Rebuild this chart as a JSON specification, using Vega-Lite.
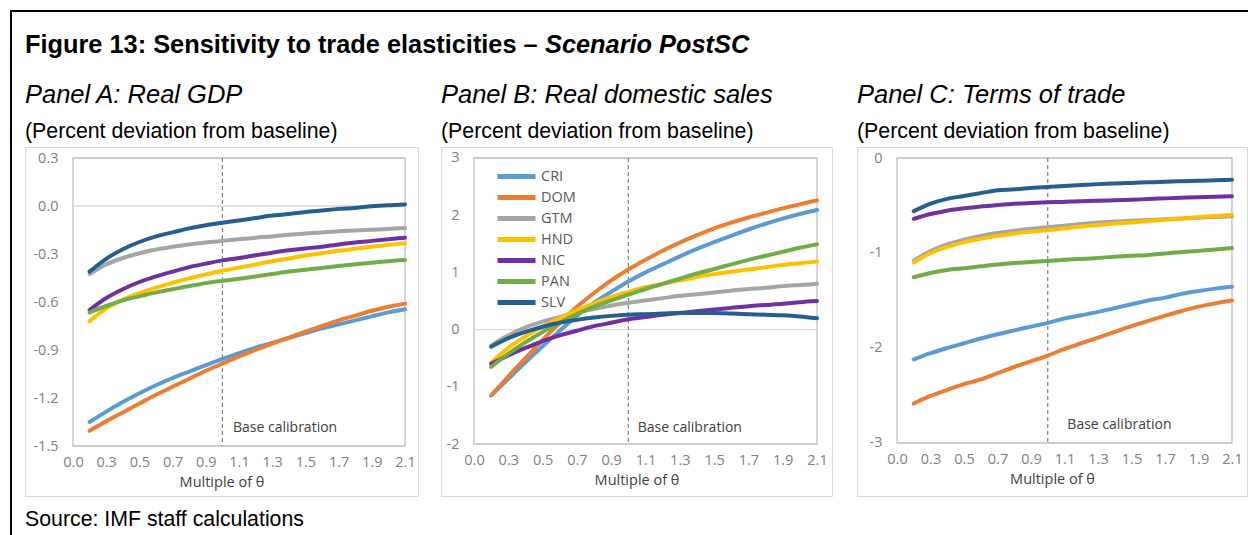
{
  "$schema": "https://vega.github.io/schema/vega-lite/v6.json",
  "background": "white",
  "padding": {"left": 10, "top": 10, "right": 0, "bottom": 0},
  "config": {
    "view": {"stroke": null},
    "range": {"category": ["#5B9BD5", "#ED7D31", "#A5A5A5", "#FFC000", "#7030A0", "#70AD47", "#255E91"]},
    "axis": {
      "labelFont": "Open Sans", "labelFontSize": 14.5, "labelColor": "#7f7f7f",
      "titleFont": "Open Sans", "titleFontSize": 14.5, "titleColor": "#404040", "titleFontWeight": "normal",
      "ticks": false, "tickSize": 0, "domain": false, "grid": false, "labelFlush": false, "labelOverlap": false
    }
  },
  "datasets": {
    "A": [
      {"theta": 0.2, "CRI": -1.35, "DOM": -1.405, "GTM": -0.425, "HND": -0.72, "NIC": -0.65, "PAN": -0.665, "SLV": -0.41},
      {"theta": 0.3, "CRI": -1.285, "DOM": -1.345, "GTM": -0.365, "HND": -0.64, "NIC": -0.575, "PAN": -0.625, "SLV": -0.33},
      {"theta": 0.4, "CRI": -1.225, "DOM": -1.29, "GTM": -0.325, "HND": -0.585, "NIC": -0.52, "PAN": -0.59, "SLV": -0.27},
      {"theta": 0.5, "CRI": -1.17, "DOM": -1.235, "GTM": -0.295, "HND": -0.545, "NIC": -0.475, "PAN": -0.565, "SLV": -0.225},
      {"theta": 0.6, "CRI": -1.12, "DOM": -1.18, "GTM": -0.272, "HND": -0.51, "NIC": -0.44, "PAN": -0.54, "SLV": -0.19},
      {"theta": 0.7, "CRI": -1.075, "DOM": -1.13, "GTM": -0.255, "HND": -0.48, "NIC": -0.41, "PAN": -0.52, "SLV": -0.165},
      {"theta": 0.8, "CRI": -1.035, "DOM": -1.08, "GTM": -0.24, "HND": -0.452, "NIC": -0.382, "PAN": -0.5, "SLV": -0.14},
      {"theta": 0.9, "CRI": -0.995, "DOM": -1.03, "GTM": -0.228, "HND": -0.428, "NIC": -0.36, "PAN": -0.482, "SLV": -0.12},
      {"theta": 1.0, "CRI": -0.955, "DOM": -0.985, "GTM": -0.218, "HND": -0.405, "NIC": -0.34, "PAN": -0.468, "SLV": -0.105},
      {"theta": 1.1, "CRI": -0.92, "DOM": -0.94, "GTM": -0.208, "HND": -0.385, "NIC": -0.325, "PAN": -0.455, "SLV": -0.09},
      {"theta": 1.2, "CRI": -0.885, "DOM": -0.9, "GTM": -0.198, "HND": -0.365, "NIC": -0.308, "PAN": -0.44, "SLV": -0.075},
      {"theta": 1.3, "CRI": -0.855, "DOM": -0.86, "GTM": -0.19, "HND": -0.345, "NIC": -0.292, "PAN": -0.425, "SLV": -0.06},
      {"theta": 1.4, "CRI": -0.825, "DOM": -0.822, "GTM": -0.18, "HND": -0.328, "NIC": -0.277, "PAN": -0.41, "SLV": -0.05},
      {"theta": 1.5, "CRI": -0.795, "DOM": -0.785, "GTM": -0.172, "HND": -0.31, "NIC": -0.265, "PAN": -0.398, "SLV": -0.038},
      {"theta": 1.6, "CRI": -0.765, "DOM": -0.75, "GTM": -0.165, "HND": -0.295, "NIC": -0.255, "PAN": -0.387, "SLV": -0.028},
      {"theta": 1.7, "CRI": -0.74, "DOM": -0.715, "GTM": -0.158, "HND": -0.28, "NIC": -0.24, "PAN": -0.375, "SLV": -0.018},
      {"theta": 1.8, "CRI": -0.715, "DOM": -0.685, "GTM": -0.153, "HND": -0.268, "NIC": -0.228, "PAN": -0.364, "SLV": -0.012},
      {"theta": 1.9, "CRI": -0.69, "DOM": -0.655, "GTM": -0.148, "HND": -0.255, "NIC": -0.218, "PAN": -0.354, "SLV": -0.002},
      {"theta": 2.0, "CRI": -0.665, "DOM": -0.63, "GTM": -0.143, "HND": -0.243, "NIC": -0.208, "PAN": -0.345, "SLV": 0.005},
      {"theta": 2.1, "CRI": -0.645, "DOM": -0.61, "GTM": -0.138, "HND": -0.232, "NIC": -0.198, "PAN": -0.338, "SLV": 0.01}
    ],
    "B": [
      {"theta": 0.2, "CRI": -1.15, "DOM": -1.15, "GTM": -0.28, "HND": -0.58, "NIC": -0.6, "PAN": -0.65, "SLV": -0.3},
      {"theta": 0.3, "CRI": -0.86, "DOM": -0.82, "GTM": -0.1, "HND": -0.32, "NIC": -0.45, "PAN": -0.42, "SLV": -0.15},
      {"theta": 0.4, "CRI": -0.57, "DOM": -0.5, "GTM": 0.04, "HND": -0.12, "NIC": -0.32, "PAN": -0.22, "SLV": -0.04},
      {"theta": 0.5, "CRI": -0.29, "DOM": -0.18, "GTM": 0.14, "HND": 0.05, "NIC": -0.2, "PAN": -0.04, "SLV": 0.05},
      {"theta": 0.6, "CRI": -0.02, "DOM": 0.12, "GTM": 0.22, "HND": 0.2, "NIC": -0.1, "PAN": 0.12, "SLV": 0.12},
      {"theta": 0.7, "CRI": 0.24, "DOM": 0.4, "GTM": 0.3, "HND": 0.34, "NIC": -0.02, "PAN": 0.27, "SLV": 0.17},
      {"theta": 0.8, "CRI": 0.47, "DOM": 0.64, "GTM": 0.36, "HND": 0.46, "NIC": 0.06, "PAN": 0.4, "SLV": 0.21},
      {"theta": 0.9, "CRI": 0.66, "DOM": 0.86, "GTM": 0.42, "HND": 0.57, "NIC": 0.12, "PAN": 0.51, "SLV": 0.24},
      {"theta": 1.0, "CRI": 0.84, "DOM": 1.05, "GTM": 0.47, "HND": 0.66, "NIC": 0.18, "PAN": 0.61, "SLV": 0.26},
      {"theta": 1.1, "CRI": 1.0, "DOM": 1.22, "GTM": 0.51, "HND": 0.74, "NIC": 0.22, "PAN": 0.71, "SLV": 0.27},
      {"theta": 1.2, "CRI": 1.14, "DOM": 1.38, "GTM": 0.55, "HND": 0.8, "NIC": 0.26, "PAN": 0.8, "SLV": 0.28},
      {"theta": 1.3, "CRI": 1.28, "DOM": 1.52, "GTM": 0.59, "HND": 0.86, "NIC": 0.29, "PAN": 0.89, "SLV": 0.29},
      {"theta": 1.4, "CRI": 1.41, "DOM": 1.65, "GTM": 0.62, "HND": 0.92, "NIC": 0.32, "PAN": 0.98, "SLV": 0.29},
      {"theta": 1.5, "CRI": 1.53, "DOM": 1.77, "GTM": 0.65, "HND": 0.97, "NIC": 0.35, "PAN": 1.06, "SLV": 0.29},
      {"theta": 1.6, "CRI": 1.64, "DOM": 1.87, "GTM": 0.68, "HND": 1.01, "NIC": 0.38, "PAN": 1.14, "SLV": 0.28},
      {"theta": 1.7, "CRI": 1.75, "DOM": 1.96, "GTM": 0.71, "HND": 1.05, "NIC": 0.41, "PAN": 1.22, "SLV": 0.27},
      {"theta": 1.8, "CRI": 1.85, "DOM": 2.04, "GTM": 0.73, "HND": 1.09, "NIC": 0.43, "PAN": 1.29, "SLV": 0.26},
      {"theta": 1.9, "CRI": 1.94, "DOM": 2.12, "GTM": 0.76, "HND": 1.13, "NIC": 0.45, "PAN": 1.36, "SLV": 0.25},
      {"theta": 2.0, "CRI": 2.02, "DOM": 2.19, "GTM": 0.78, "HND": 1.16, "NIC": 0.48, "PAN": 1.43, "SLV": 0.23},
      {"theta": 2.1, "CRI": 2.09, "DOM": 2.26, "GTM": 0.8, "HND": 1.19, "NIC": 0.5, "PAN": 1.49, "SLV": 0.2}
    ],
    "C": [
      {"theta": 0.2, "CRI": -2.12, "DOM": -2.585, "GTM": -1.08, "HND": -1.1, "NIC": -0.64, "PAN": -1.255, "SLV": -0.56},
      {"theta": 0.3, "CRI": -2.055, "DOM": -2.505, "GTM": -0.98, "HND": -1.0, "NIC": -0.59, "PAN": -1.21, "SLV": -0.48},
      {"theta": 0.4, "CRI": -2.0, "DOM": -2.44, "GTM": -0.91, "HND": -0.935, "NIC": -0.555, "PAN": -1.178, "SLV": -0.43},
      {"theta": 0.5, "CRI": -1.95, "DOM": -2.38, "GTM": -0.86, "HND": -0.885, "NIC": -0.53, "PAN": -1.16, "SLV": -0.4},
      {"theta": 0.6, "CRI": -1.9, "DOM": -2.33, "GTM": -0.82, "HND": -0.85, "NIC": -0.51, "PAN": -1.14, "SLV": -0.37},
      {"theta": 0.7, "CRI": -1.855, "DOM": -2.265, "GTM": -0.79, "HND": -0.82, "NIC": -0.495, "PAN": -1.12, "SLV": -0.34},
      {"theta": 0.8, "CRI": -1.815, "DOM": -2.2, "GTM": -0.765, "HND": -0.795, "NIC": -0.482, "PAN": -1.105, "SLV": -0.33},
      {"theta": 0.9, "CRI": -1.775, "DOM": -2.14, "GTM": -0.745, "HND": -0.775, "NIC": -0.474, "PAN": -1.095, "SLV": -0.315},
      {"theta": 1.0, "CRI": -1.735, "DOM": -2.08, "GTM": -0.73, "HND": -0.76, "NIC": -0.467, "PAN": -1.083, "SLV": -0.305},
      {"theta": 1.1, "CRI": -1.69, "DOM": -2.01, "GTM": -0.712, "HND": -0.74, "NIC": -0.462, "PAN": -1.072, "SLV": -0.295},
      {"theta": 1.2, "CRI": -1.655, "DOM": -1.95, "GTM": -0.695, "HND": -0.72, "NIC": -0.456, "PAN": -1.062, "SLV": -0.285},
      {"theta": 1.3, "CRI": -1.62, "DOM": -1.89, "GTM": -0.68, "HND": -0.705, "NIC": -0.45, "PAN": -1.052, "SLV": -0.275},
      {"theta": 1.4, "CRI": -1.58, "DOM": -1.83, "GTM": -0.668, "HND": -0.69, "NIC": -0.445, "PAN": -1.04, "SLV": -0.268},
      {"theta": 1.5, "CRI": -1.54, "DOM": -1.77, "GTM": -0.66, "HND": -0.677, "NIC": -0.44, "PAN": -1.03, "SLV": -0.262},
      {"theta": 1.6, "CRI": -1.5, "DOM": -1.715, "GTM": -0.652, "HND": -0.664, "NIC": -0.432, "PAN": -1.02, "SLV": -0.256},
      {"theta": 1.7, "CRI": -1.47, "DOM": -1.66, "GTM": -0.645, "HND": -0.65, "NIC": -0.425, "PAN": -1.005, "SLV": -0.25},
      {"theta": 1.8, "CRI": -1.43, "DOM": -1.61, "GTM": -0.636, "HND": -0.636, "NIC": -0.418, "PAN": -0.99, "SLV": -0.245},
      {"theta": 1.9, "CRI": -1.4, "DOM": -1.565, "GTM": -0.628, "HND": -0.622, "NIC": -0.412, "PAN": -0.978, "SLV": -0.24},
      {"theta": 2.0, "CRI": -1.375, "DOM": -1.53, "GTM": -0.62, "HND": -0.61, "NIC": -0.408, "PAN": -0.962, "SLV": -0.235},
      {"theta": 2.1, "CRI": -1.355, "DOM": -1.5, "GTM": -0.614, "HND": -0.598, "NIC": -0.403, "PAN": -0.948, "SLV": -0.228}
    ]
  },
  "bounds": "flush",
  "spacing": 0,
  "hconcat": [
    {
      "width": 2, "height": 525,
      "view": {"fill": "black", "stroke": null},
      "data": {"values": [{}]},
      "mark": {"type": "point", "opacity": 0, "size": 1}
    },
    {
      "bounds": "flush",
      "spacing": 135,
      "vconcat": [
        {
          "width": 1236, "height": 2,
          "view": {"fill": "black", "stroke": null},
          "data": {"values": [{}]},
          "mark": {"type": "point", "opacity": 0, "size": 1}
        },
        {
          "bounds": "flush",
          "spacing": 0,
          "resolve": {"scale": {"color": "independent"}, "legend": {"color": "independent"}},
          "hconcat": [
            {
              "width": 13, "height": 349,
              "data": {"values": [{}]},
              "mark": {"type": "point", "opacity": 0, "size": 1},
              "title": {"text": "Figure 13: Sensitivity to trade elasticities –", "orient": "top", "anchor": "start", "frame": "group", "dx": 13, "offset": 89, "font": "Liberation Sans", "fontSize": 25.35, "fontWeight": "bold", "color": "black"}
            },
            {
              "width": 393, "height": 349,
              "view": {"stroke": "#d9d9d9", "strokeWidth": 1},
              "title": {"text": "Panel A: Real GDP", "subtitle": "(Percent deviation from baseline)", "orient": "top", "anchor": "start", "frame": "group", "font": "Liberation Sans", "fontSize": 25.5, "fontStyle": "italic", "fontWeight": "normal", "color": "black", "subtitleFont": "Liberation Sans", "subtitleFontSize": 21.3, "subtitleColor": "black", "subtitlePadding": 12, "offset": 5},
              "layer": [
                {
                  "data": {"values": [{}]},
                  "mark": {"type": "rect", "fill": "transparent", "stroke": "#bfbfbf", "strokeWidth": 1.3},
                  "encoding": {
                    "x": {"datum": 0.1, "type": "quantitative", "scale": {"domain": [-0.1892, 2.1783], "nice": false, "zero": false},
                      "axis": {"values": [0.1, 0.3, 0.5, 0.7, 0.9, 1.1, 1.3, 1.5, 1.7, 1.9, 2.1], "tickCount": 40, "labelOverlap": false, "labelExpr": "datum.value < 0.2 ? '0.0' : format(datum.value, '.1f')", "title": "Multiple of θ", "offset": -50, "labelPadding": 9, "titlePadding": 7}},
                    "x2": {"datum": 2.1},
                    "y": {"datum": 0.3, "type": "quantitative", "scale": {"domain": [-1.8125, 0.36875], "nice": false, "zero": false},
                      "axis": {"values": [-1.5, -1.2, -0.9, -0.6, -0.3, 0, 0.3], "tickCount": 40, "labelOverlap": false, "labelExpr": "replace(format(datum.value, '.1f'), '−', '-')", "title": null, "offset": -48, "labelPadding": 15}},
                    "y2": {"datum": -1.5}
                  }
                },
                {
                  "data": {"values": [{}]},
                  "mark": {"type": "rule", "color": "#d9d9d9", "strokeWidth": 1.3},
                  "encoding": {"x": {"datum": 0.1}, "x2": {"datum": 2.1}, "y": {"datum": 0}}
                },
                {
                  "data": {"values": [{}]},
                  "mark": {"type": "rule", "color": "#808080", "strokeWidth": 1.2, "strokeDash": [4, 3]},
                  "encoding": {"x": {"datum": 1.0}, "y": {"datum": 0.3}, "y2": {"datum": -1.5}}
                },
                {
                  "data": {"name": "A"},
                  "transform": [{"fold": ["CRI", "DOM", "GTM", "HND", "NIC", "PAN", "SLV"], "as": ["country", "value"]}],
                  "mark": {"type": "line", "strokeWidth": 4, "strokeCap": "round", "strokeJoin": "round", "interpolate": "monotone"},
                  "encoding": {
                    "x": {"field": "theta", "type": "quantitative"},
                    "y": {"field": "value", "type": "quantitative"},
                    "color": {"field": "country", "type": "nominal", "legend": null}
                  }
                },
                {
                  "data": {"values": [{}]},
                  "mark": {"type": "text", "text": "Base calibration", "align": "left", "baseline": "middle", "font": "Open Sans", "fontSize": 14, "color": "#404040"},
                  "encoding": {"x": {"datum": 1.064}, "y": {"datum": -1.387}}
                }
              ]
            },
            {
              "width": 23, "height": 349,
              "data": {"values": [{}]},
              "mark": {"type": "point", "opacity": 0, "size": 1},
              "title": {"text": "Scenario PostSC", "orient": "top", "anchor": "start", "frame": "group", "dx": 127, "offset": 89, "font": "Liberation Sans", "fontSize": 25.35, "fontWeight": "bold", "fontStyle": "italic", "color": "black"}
            },
            {
              "width": 391, "height": 349,
              "view": {"stroke": "#d9d9d9", "strokeWidth": 1},
              "title": {"text": "Panel B: Real domestic sales", "subtitle": "(Percent deviation from baseline)", "orient": "top", "anchor": "start", "frame": "group", "font": "Liberation Sans", "fontSize": 25.5, "fontStyle": "italic", "fontWeight": "normal", "color": "black", "subtitleFont": "Liberation Sans", "subtitleFontSize": 21.3, "subtitleColor": "black", "subtitlePadding": 12, "offset": 5},
              "layer": [
                {
                  "data": {"values": [{}]},
                  "mark": {"type": "rect", "fill": "transparent", "stroke": "#bfbfbf", "strokeWidth": 1.3},
                  "encoding": {
                    "x": {"datum": 0.1, "type": "quantitative", "scale": {"domain": [-0.0924, 2.1875], "nice": false, "zero": false},
                      "axis": {"values": [0.1, 0.3, 0.5, 0.7, 0.9, 1.1, 1.3, 1.5, 1.7, 1.9, 2.1], "tickCount": 40, "labelOverlap": false, "labelExpr": "datum.value < 0.2 ? '0.0' : format(datum.value, '.1f')", "title": "Multiple of θ", "offset": -52, "labelPadding": 9, "titlePadding": 7}},
                    "x2": {"datum": 2.1},
                    "y": {"datum": 3, "type": "quantitative", "scale": {"domain": [-2.909, 3.1923], "nice": false, "zero": false},
                      "axis": {"values": [-2, -1, 0, 1, 2, 3], "tickCount": 40, "labelOverlap": false, "labelExpr": "replace(format(datum.value, 'd'), '−', '-')", "title": null, "offset": -33, "labelPadding": 15}},
                    "y2": {"datum": -2}
                  }
                },
                {
                  "data": {"values": [{}]},
                  "mark": {"type": "rule", "color": "#d9d9d9", "strokeWidth": 1.3},
                  "encoding": {"x": {"datum": 0.1}, "x2": {"datum": 2.1}, "y": {"datum": 0}}
                },
                {
                  "data": {"values": [{}]},
                  "mark": {"type": "rule", "color": "#808080", "strokeWidth": 1.2, "strokeDash": [4, 3]},
                  "encoding": {"x": {"datum": 1.0}, "y": {"datum": 3}, "y2": {"datum": -2}}
                },
                {
                  "data": {"name": "B"},
                  "transform": [{"fold": ["CRI", "DOM", "GTM", "HND", "NIC", "PAN", "SLV"], "as": ["country", "value"]}],
                  "mark": {"type": "line", "strokeWidth": 4, "strokeCap": "round", "strokeJoin": "round", "interpolate": "monotone"},
                  "encoding": {
                    "x": {"field": "theta", "type": "quantitative"},
                    "y": {"field": "value", "type": "quantitative"},
                    "color": {"field": "country", "type": "nominal",
                      "legend": {"orient": "none", "legendX": 54, "legendY": 19, "title": null, "direction": "vertical", "symbolType": "stroke", "symbolSize": 1444, "symbolStrokeWidth": 5, "clipHeight": 21, "rowPadding": 0, "padding": 0, "labelFont": "Open Sans", "labelFontSize": 14.5, "labelColor": "#595959", "labelOffset": 3}}
                  }
                },
                {
                  "data": {"values": [{}]},
                  "mark": {"type": "text", "text": "Base calibration", "align": "left", "baseline": "middle", "font": "Open Sans", "fontSize": 14, "color": "#404040"},
                  "encoding": {"x": {"datum": 1.055}, "y": {"datum": -1.715}}
                }
              ]
            },
            {
              "width": 25, "height": 349,
              "data": {"values": [{}]},
              "mark": {"type": "point", "opacity": 0, "size": 1},
              "title": {"text": "Source: IMF staff calculations", "orient": "bottom", "anchor": "start", "frame": "group", "dx": -807, "offset": 13, "font": "Liberation Sans", "fontSize": 21.3, "fontWeight": "normal", "color": "black"}
            },
            {
              "width": 390, "height": 349,
              "view": {"stroke": "#d9d9d9", "strokeWidth": 1},
              "title": {"text": "Panel C: Terms of trade", "subtitle": "(Percent deviation from baseline)", "orient": "top", "anchor": "start", "frame": "group", "font": "Liberation Sans", "fontSize": 25.5, "fontStyle": "italic", "fontWeight": "normal", "color": "black", "subtitleFont": "Liberation Sans", "subtitleFontSize": 21.3, "subtitleColor": "black", "subtitlePadding": 12, "offset": 5},
              "layer": [
                {
                  "data": {"values": [{}]},
                  "mark": {"type": "rect", "fill": "transparent", "stroke": "#bfbfbf", "strokeWidth": 1.3},
                  "encoding": {
                    "x": {"datum": 0.1, "type": "quantitative", "scale": {"domain": [-0.1388, 2.1896], "nice": false, "zero": false},
                      "axis": {"values": [0.1, 0.3, 0.5, 0.7, 0.9, 1.1, 1.3, 1.5, 1.7, 1.9, 2.1], "tickCount": 40, "labelOverlap": false, "labelExpr": "datum.value < 0.2 ? '0.0' : format(datum.value, '.1f')", "title": "Multiple of θ", "offset": -53, "labelPadding": 9, "titlePadding": 7}},
                    "x2": {"datum": 2.1},
                    "y": {"datum": 0, "type": "quantitative", "scale": {"domain": [-3.558, 0.1158], "nice": false, "zero": false},
                      "axis": {"values": [-3, -2, -1, 0], "tickCount": 40, "labelOverlap": false, "labelExpr": "replace(format(datum.value, 'd'), '−', '-')", "title": null, "offset": -40, "labelPadding": 15}},
                    "y2": {"datum": -3}
                  }
                },
                {
                  "data": {"values": [{}]},
                  "mark": {"type": "rule", "color": "#808080", "strokeWidth": 1.2, "strokeDash": [4, 3]},
                  "encoding": {"x": {"datum": 1.0}, "y": {"datum": 0}, "y2": {"datum": -3}}
                },
                {
                  "data": {"name": "C"},
                  "transform": [{"fold": ["CRI", "DOM", "GTM", "HND", "NIC", "PAN", "SLV"], "as": ["country", "value"]}],
                  "mark": {"type": "line", "strokeWidth": 4, "strokeCap": "round", "strokeJoin": "round", "interpolate": "monotone"},
                  "encoding": {
                    "x": {"field": "theta", "type": "quantitative"},
                    "y": {"field": "value", "type": "quantitative"},
                    "color": {"field": "country", "type": "nominal", "legend": null}
                  }
                },
                {
                  "data": {"values": [{}]},
                  "mark": {"type": "text", "text": "Base calibration", "align": "left", "baseline": "middle", "font": "Open Sans", "fontSize": 14, "color": "#404040"},
                  "encoding": {"x": {"datum": 1.117}, "y": {"datum": -2.814}}
                }
              ]
            }
          ]
        }
      ]
    }
  ]
}
